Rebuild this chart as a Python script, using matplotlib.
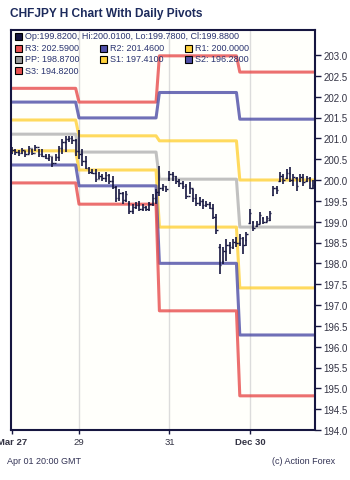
import numpy as np
import matplotlib; matplotlib.use("Agg")
import matplotlib.pyplot as plt
from matplotlib.patches import Rectangle

plt.rcParams["font.family"] = ["Liberation Sans", "DejaVu Sans"]

# hourly bars (index = bar number)
HI = [200.79,200.74,200.72,200.77,200.70,200.82,200.74,200.84,200.74,200.74,
      200.62,200.62,200.55,200.62,200.82,200.98,201.06,201.06,201.06,200.98,
      201.20,200.74,200.58,200.31,200.26,200.26,200.19,200.14,200.19,200.14,
      200.10,199.86,199.78,199.71,199.74,199.50,199.42,199.47,199.50,199.42,
      199.38,199.47,199.66,199.78,
      200.34,199.90,199.86,200.22,200.19,200.10,200.02,199.98,199.90,199.95,
      199.78,199.66,199.59,199.54,199.50,199.47,199.42,199.18,198.46,198.39,
      198.58,198.51,198.58,198.63,
      198.70,198.63,198.75,199.30,199.02,199.02,199.23,199.11,199.14,199.26,
      199.86,199.86,200.19,200.14,200.26,200.31,200.14,200.07,200.14,200.14,
      200.10,200.07,200.01]
LO = [200.62,200.60,200.58,200.62,200.55,200.62,200.60,200.70,200.55,200.55,
      200.50,200.46,200.31,200.46,200.46,200.62,200.67,200.91,200.86,200.58,
      200.50,200.34,200.26,200.14,200.14,199.95,200.02,199.98,199.95,199.90,
      199.78,199.47,199.50,199.42,199.47,199.18,199.18,199.30,199.26,199.26,
      199.26,199.26,199.38,199.42,
      199.62,199.74,199.71,199.98,199.98,199.90,199.83,199.78,199.54,199.66,
      199.47,199.38,199.38,199.30,199.35,199.30,199.06,198.70,197.74,197.98,
      198.06,198.22,198.34,198.39,
      198.42,198.22,198.42,198.94,198.78,198.87,198.94,198.94,198.99,199.02,
      199.62,199.66,199.95,199.90,200.02,199.95,199.86,199.74,199.95,199.86,
      199.95,199.78,199.78]
OP = [200.66,200.72,200.68,200.64,200.73,200.62,200.76,200.66,200.80,200.62,
      200.58,200.53,200.58,200.40,200.55,200.78,200.92,200.98,201.00,200.95,
      200.70,200.62,200.45,200.30,200.20,200.18,200.02,200.10,200.04,200.12,
      199.98,199.84,199.58,199.70,199.52,199.45,199.25,199.35,199.40,199.30,
      199.36,199.30,199.42,199.58,
      199.72,199.80,199.86,200.05,200.15,200.10,199.98,199.92,199.86,199.62,
      199.80,199.58,199.45,199.50,199.40,199.42,199.34,199.12,198.40,198.05,
      198.30,198.45,198.40,198.52,
      198.50,198.60,198.55,198.98,199.00,198.90,198.95,199.10,199.00,199.05,
      199.65,199.80,199.98,200.10,200.05,200.18,200.00,200.05,199.98,200.08,
      199.98,200.04,199.82]
CL = [200.72,200.68,200.64,200.73,200.62,200.76,200.66,200.80,200.62,200.58,
      200.53,200.58,200.40,200.55,200.78,200.92,200.98,201.00,200.95,200.70,
      200.62,200.45,200.30,200.20,200.18,200.02,200.10,200.04,200.12,199.98,
      199.84,199.58,199.70,199.52,199.66,199.25,199.35,199.40,199.30,199.36,
      199.30,199.42,199.58,199.72,
      199.80,199.86,199.78,200.15,200.10,199.98,199.92,199.86,199.62,199.80,
      199.58,199.45,199.50,199.40,199.42,199.34,199.12,198.80,197.95,198.30,
      198.45,198.40,198.52,198.50,
      198.60,198.45,198.70,199.20,198.85,198.95,199.15,199.00,199.08,199.20,
      199.80,199.75,200.10,200.00,200.18,200.00,200.08,199.85,200.08,199.95,
      200.04,199.82,199.88]

# daily pivot levels, one value per day, and bars per day
DAY_BARS = [20, 24, 24, 23]
R3 = [202.20, 201.87, 202.98, 202.59]
R2 = [201.87, 201.49, 202.10, 201.46]
R1 = [201.44, 201.06, 200.94, 200.00]
PP = [201.10, 200.67, 200.02, 198.87]
S1 = [200.70, 200.24, 198.87, 197.41]
S2 = [200.36, 199.86, 198.00, 196.28]
S3 = [199.93, 199.42, 196.86, 194.82]

XTICK_POS = [0, 20, 47, 71]
XTICK_LAB = ["Mar 27", "29", "31", "Dec 30"]
YTICKS = np.arange(194.0, 203.01, 0.5)

RED, BLU, YEL, GRY, NAVY = "#e85050", "#5050a8", "#ffd23c", "#b4b4b4", "#161640"
TXT = "#2a3470"

W, H = 350, 481
fig = plt.figure(figsize=(W/100, H/100), dpi=100)
ax = fig.add_axes([11/W, 50/H, 304/W, 400/H])
ax.set_facecolor("#fffffb")

x = np.arange(len(HI))
for p in XTICK_POS[1:]:
    ax.axvline(p, color="#dcdcdc", lw=1, zorder=0)

for lev, c in [(R3, RED), (R2, BLU), (R1, YEL), (PP, GRY), (S1, YEL), (S2, BLU), (S3, RED)]:
    ax.plot(x, np.repeat(lev, DAY_BARS), color=c, lw=2.2, alpha=0.82, zorder=1)

ax.vlines(x, LO, HI, color=NAVY, lw=1.2, zorder=3)
ax.hlines(OP, x-0.45, x, color=NAVY, lw=1.0, zorder=3)
ax.hlines(CL, x, x+0.45, color=NAVY, lw=1.0, zorder=3)

ax.set_xlim(-0.3, 90.45)
ax.set_ylim(194.0, 203.6)
ax.yaxis.tick_right()
ax.set_yticks(YTICKS)
ax.set_yticklabels([f"{v:.1f}" for v in YTICKS])
ax.set_xticks(XTICK_POS)
ax.set_xticklabels(XTICK_LAB)
for i, t in enumerate(ax.get_xticklabels()):
    if i in (0, 3):
        t.set_fontweight("bold")
ax.tick_params(axis="y", length=4, width=1, color=NAVY, labelsize=7, labelcolor="#333344", pad=2)
ax.tick_params(axis="x", length=3, width=1, color=NAVY, labelsize=6.8, labelcolor="#333344", pad=2)
for s in ax.spines.values():
    s.set_color(NAVY); s.set_linewidth(1.5)

fig.text(10/W, 1-14/H, "CHFJPY H Chart With Daily Pivots", fontsize=8.6, fontweight="bold",
         color="#1c2a5c", va="center", ha="left")

def legend_item(px, py, col, label):
    fig.patches.append(Rectangle((px/W, 1-(py+3.5)/H), 7/W, 7/H, transform=fig.transFigure,
                                 facecolor=col, edgecolor="black", lw=0.8, zorder=5))
    fig.text((px+10)/W, 1-py/H, label, fontsize=6.5, color=TXT, va="center", ha="left", zorder=5)

legend_item(15, 37, NAVY, "Op:199.8200, Hi:200.0100, Lo:199.7800, Cl:199.8800")
legend_item(15, 49, RED, f"R3: {R3[-1]:.4f}")
legend_item(100, 49, BLU, f"R2: {R2[-1]:.4f}")
legend_item(185, 49, YEL, f"R1: {R1[-1]:.4f}")
legend_item(15, 60, "#999999", f"PP: {PP[-1]:.4f}")
legend_item(100, 60, YEL, f"S1: {S1[-1]:.4f}")
legend_item(185, 60, BLU, f"S2: {S2[-1]:.4f}")
legend_item(15, 71, RED, f"S3: {S3[-1]:.4f}")

fig.text(7/W, 1-462/H, "Apr 01 20:00 GMT", fontsize=6.5, color="#333355", va="center", ha="left")
fig.text(335/W, 1-462/H, "(c) Action Forex", fontsize=6.5, color="#333355", va="center", ha="right")

fig.savefig("out.png", dpi=100)
